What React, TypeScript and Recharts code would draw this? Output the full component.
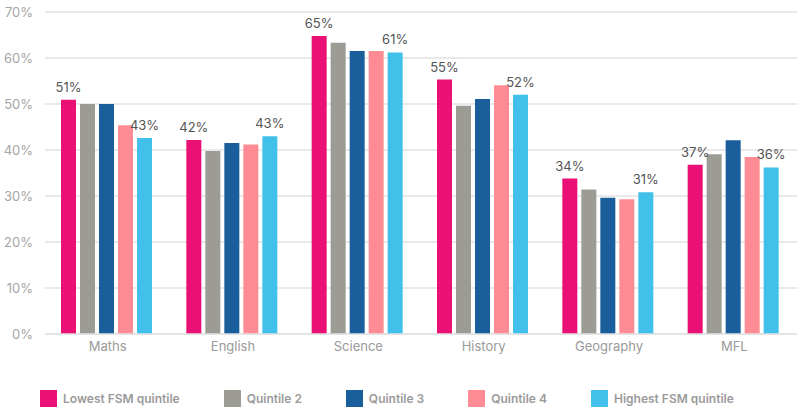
import React from "react";
import {
  BarChart,
  Bar,
  XAxis,
  YAxis,
  CartesianGrid,
  LabelList,
} from "recharts";

const subjects = ["Maths", "English", "Science", "History", "Geography", "MFL"];

const lowestFsm = [50.9, 42.2, 64.8, 55.3, 33.8, 36.8];
const quintile2 = [50.0, 39.8, 63.3, 49.6, 31.4, 39.1];
const quintile3 = [50.0, 41.5, 61.5, 51.1, 29.6, 42.1];
const quintile4 = [45.4, 41.2, 61.5, 54.1, 29.3, 38.5];
const highestFsm = [42.6, 43.0, 61.2, 52.0, 30.8, 36.2];

const yTicks = [0, 10, 20, 30, 40, 50, 60, 70];

const series = [
  { key: "lowest", name: "Lowest FSM quintile", color: "#EA1076", values: lowestFsm, label: true },
  { key: "q2", name: "Quintile 2", color: "#9C9C94", values: quintile2, label: false },
  { key: "q3", name: "Quintile 3", color: "#1A5E9B", values: quintile3, label: false },
  { key: "q4", name: "Quintile 4", color: "#FF8C94", values: quintile4, label: false },
  { key: "highest", name: "Highest FSM quintile", color: "#41C0E9", values: highestFsm, label: true },
];

const data = subjects.map((subject, i) => {
  const row: Record<string, string | number> = { subject };
  series.forEach((s) => {
    row[s.key] = s.values[i];
  });
  return row;
});

const font = "Inter, 'Noto Sans', sans-serif";

const App: React.FC = () => {
  return (
    <div
      style={{
        position: "absolute",
        left: 0,
        top: 0,
        width: 797,
        height: 408,
        background: "#fff",
        fontFamily: font,
      }}
    >
      <BarChart
        width={797}
        height={408}
        data={data}
        margin={{ top: 12, right: 0, bottom: 44, left: 0 }}
        barCategoryGap={16}
        barGap={4}
      >
        <CartesianGrid vertical={false} stroke="#e2e2e2" strokeWidth={1.5} />
        <XAxis
          dataKey="subject"
          height={30}
          tickLine={false}
          axisLine={{ stroke: "#e2e2e2", strokeWidth: 1.5 }}
          tick={{ fill: "#9a9a9a", fontSize: 13, fontFamily: font }}
        />
        <YAxis
          width={45}
          domain={[0, 70]}
          ticks={yTicks}
          tickFormatter={(v: number) => `${v}%`}
          axisLine={false}
          tickLine={false}
          tickMargin={6}
          tick={{ fill: "#a5a5a5", fontSize: 13, fontFamily: font }}
        />
        {series.map((s) => (
          <Bar key={s.key} dataKey={s.key} name={s.name} fill={s.color} isAnimationActive={false}>
            {s.label && (
              <LabelList
                dataKey={s.key}
                position="top"
                offset={8}
                formatter={(v: number) => `${Math.round(v)}%`}
                style={{ fill: "#555", fontSize: 13, fontFamily: font }}
              />
            )}
          </Bar>
        ))}
      </BarChart>
      <div
        style={{
          position: "absolute",
          left: 40,
          top: 390,
          display: "flex",
          alignItems: "center",
          whiteSpace: "nowrap",
        }}
      >
        {series.map((s) => (
          <div key={s.key} style={{ display: "flex", alignItems: "center", marginRight: 44 }}>
            <div style={{ width: 17, height: 17, background: s.color, marginRight: 6 }} />
            <span style={{ color: "#9a9a9a", fontSize: 12, fontWeight: 600, lineHeight: "17px" }}>
              {s.name}
            </span>
          </div>
        ))}
      </div>
    </div>
  );
};

export default App;
